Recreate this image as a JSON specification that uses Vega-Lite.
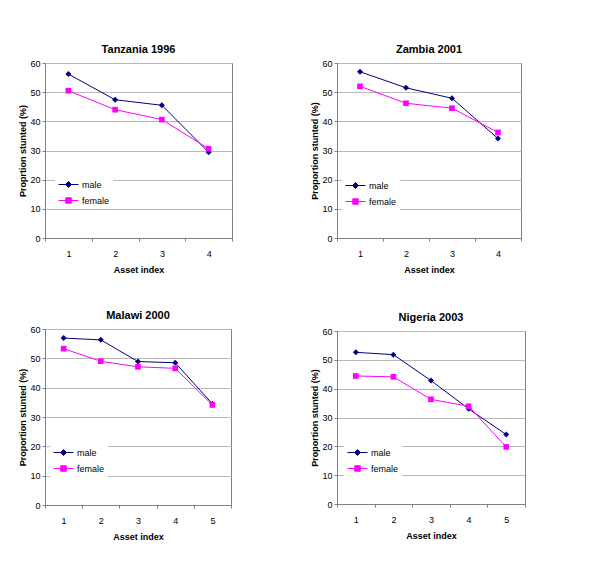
{
  "$schema": "https://vega.github.io/schema/vega-lite/v6.json",
  "padding": {"left": 18, "top": 43, "right": 5, "bottom": 5},
  "background": "white",
  "datasets": {
    "stunting": [
      {"country": "Tanzania", "asset": "1", "sex": "male", "value": 56.2},
      {"country": "Tanzania", "asset": "2", "sex": "male", "value": 47.4},
      {"country": "Tanzania", "asset": "3", "sex": "male", "value": 45.5},
      {"country": "Tanzania", "asset": "4", "sex": "male", "value": 29.4},
      {"country": "Tanzania", "asset": "1", "sex": "female", "value": 50.5},
      {"country": "Tanzania", "asset": "2", "sex": "female", "value": 44.0},
      {"country": "Tanzania", "asset": "3", "sex": "female", "value": 40.6},
      {"country": "Tanzania", "asset": "4", "sex": "female", "value": 30.6},
      {"country": "Zambia", "asset": "1", "sex": "male", "value": 57.0},
      {"country": "Zambia", "asset": "2", "sex": "male", "value": 51.5},
      {"country": "Zambia", "asset": "3", "sex": "male", "value": 47.9},
      {"country": "Zambia", "asset": "4", "sex": "male", "value": 34.1},
      {"country": "Zambia", "asset": "1", "sex": "female", "value": 52.0},
      {"country": "Zambia", "asset": "2", "sex": "female", "value": 46.2},
      {"country": "Zambia", "asset": "3", "sex": "female", "value": 44.5},
      {"country": "Zambia", "asset": "4", "sex": "female", "value": 36.2},
      {"country": "Malawi", "asset": "1", "sex": "male", "value": 56.9},
      {"country": "Malawi", "asset": "2", "sex": "male", "value": 56.3},
      {"country": "Malawi", "asset": "3", "sex": "male", "value": 48.9},
      {"country": "Malawi", "asset": "4", "sex": "male", "value": 48.5},
      {"country": "Malawi", "asset": "5", "sex": "male", "value": 34.5},
      {"country": "Malawi", "asset": "1", "sex": "female", "value": 53.3},
      {"country": "Malawi", "asset": "2", "sex": "female", "value": 49.0},
      {"country": "Malawi", "asset": "3", "sex": "female", "value": 47.1},
      {"country": "Malawi", "asset": "4", "sex": "female", "value": 46.6},
      {"country": "Malawi", "asset": "5", "sex": "female", "value": 34.1},
      {"country": "Nigeria", "asset": "1", "sex": "male", "value": 52.6},
      {"country": "Nigeria", "asset": "2", "sex": "male", "value": 51.8},
      {"country": "Nigeria", "asset": "3", "sex": "male", "value": 42.8},
      {"country": "Nigeria", "asset": "4", "sex": "male", "value": 33.0},
      {"country": "Nigeria", "asset": "5", "sex": "male", "value": 24.1},
      {"country": "Nigeria", "asset": "1", "sex": "female", "value": 44.4},
      {"country": "Nigeria", "asset": "2", "sex": "female", "value": 44.1},
      {"country": "Nigeria", "asset": "3", "sex": "female", "value": 36.3},
      {"country": "Nigeria", "asset": "4", "sex": "female", "value": 33.9},
      {"country": "Nigeria", "asset": "5", "sex": "female", "value": 19.8}
    ]
  },
  "data": {"name": "stunting"},
  "config": {
    "font": "Liberation Sans, Arial",
    "view": {"stroke": "#808080", "strokeWidth": 1},
    "title": {"fontSize": 11, "fontWeight": "bold", "color": "black", "offset": 4, "anchor": "middle"},
    "axis": {
      "labelFontSize": 9, "labelColor": "black", "titleFontSize": 9, "titleFontWeight": "bold", "titleColor": "black",
      "domainColor": "#808080", "tickColor": "#808080", "gridColor": "#b8b8b8", "tickSize": 3
    },
    "axisX": {"labelAngle": 0, "grid": false, "labelPadding": 8, "titlePadding": 7},
    "axisY": {"grid": true, "labelPadding": 2, "titlePadding": 2},
    "legend": {"labelFontSize": 9, "labelColor": "black", "fillColor": "white", "padding": 3, "rowPadding": 5, "labelOffset": 13, "title": null, "orient": "none", "symbolSize": 100, "symbolStrokeWidth": 1, "symbolOpacity": 1}
  },
  "resolve": {"scale": {"fill": "independent", "stroke": "independent", "shape": "independent", "x": "independent", "y": "independent"}, "legend": {"fill": "independent", "stroke": "independent", "shape": "independent"}},
  "spacing": 77,
  "hconcat": [
    {
      "resolve": {"scale": {"fill": "independent", "stroke": "independent", "shape": "independent", "x": "independent", "y": "independent"}, "legend": {"fill": "independent", "stroke": "independent", "shape": "independent"}},
      "spacing": 34,
      "vconcat": [
        {
          "width": 187, "height": 175,
          "title": "Tanzania 1996",
          "transform": [{"filter": "datum.country === 'Tanzania'"}],
          "encoding": {
            "x": {"field": "asset", "type": "ordinal", "title": "Asset index", "scale": {"type": "band", "paddingInner": 0, "paddingOuter": 0}, "axis": {"tickBand": "extent"}},
            "y": {"field": "value", "type": "quantitative", "title": "Proprtion stunted (%)", "scale": {"domain": [0, 60], "nice": false}, "axis": {"values": [0, 10, 20, 30, 40, 50, 60]}}
          },
          "layer": [
            {"transform": [{"filter": "datum.sex === 'male'"}], "mark": {"type": "line", "strokeWidth": 1, "color": "#000080"}},
            {"transform": [{"filter": "datum.sex === 'female'"}], "mark": {"type": "line", "strokeWidth": 1, "color": "#ff00ff"}},
            {"transform": [{"filter": "datum.sex === 'male'"}], "mark": {"type": "point", "shape": "diamond", "filled": true, "opacity": 1, "size": 36, "color": "#000080"}},
            {"transform": [{"filter": "datum.sex === 'female'"}], "mark": {"type": "point", "shape": "square", "filled": true, "opacity": 1, "size": 32, "color": "#ff00ff"}},
            {"transform": [{"filter": "datum.value < 0"}], "mark": {"type": "point", "filled": true},
             "encoding": {
               "shape": {"field": "sex", "type": "nominal", "scale": {"domain": ["male", "female"], "range": ["M-1,0H3M1,-0.6L1.6,0L1,0.6L0.4,0Z", "M-1,0H3M0.45,-0.55H1.55V0.55H0.45Z"]}, "legend": {"legendX": 10, "legendY": 113}},
               "fill": {"field": "sex", "type": "nominal", "scale": {"domain": ["male", "female"], "range": ["#000080", "#ff00ff"]}, "legend": {"legendX": 10, "legendY": 113}},
               "stroke": {"field": "sex", "type": "nominal", "scale": {"domain": ["male", "female"], "range": ["#000080", "#ff00ff"]}, "legend": {"legendX": 10, "legendY": 113}}
             }}
          ]
        },
        {
          "width": 186, "height": 176,
          "title": "Malawi 2000",
          "transform": [{"filter": "datum.country === 'Malawi'"}],
          "encoding": {
            "x": {"field": "asset", "type": "ordinal", "title": "Asset index", "scale": {"type": "band", "paddingInner": 0, "paddingOuter": 0}, "axis": {"tickBand": "extent"}},
            "y": {"field": "value", "type": "quantitative", "title": "Proportion stunted (%)", "scale": {"domain": [0, 60], "nice": false}, "axis": {"values": [0, 10, 20, 30, 40, 50, 60]}}
          },
          "layer": [
            {"transform": [{"filter": "datum.sex === 'male'"}], "mark": {"type": "line", "strokeWidth": 1, "color": "#000080"}},
            {"transform": [{"filter": "datum.sex === 'female'"}], "mark": {"type": "line", "strokeWidth": 1, "color": "#ff00ff"}},
            {"transform": [{"filter": "datum.sex === 'male'"}], "mark": {"type": "point", "shape": "diamond", "filled": true, "opacity": 1, "size": 36, "color": "#000080"}},
            {"transform": [{"filter": "datum.sex === 'female'"}], "mark": {"type": "point", "shape": "square", "filled": true, "opacity": 1, "size": 32, "color": "#ff00ff"}},
            {"transform": [{"filter": "datum.value < 0"}], "mark": {"type": "point", "filled": true},
             "encoding": {
               "shape": {"field": "sex", "type": "nominal", "scale": {"domain": ["male", "female"], "range": ["M-1,0H3M1,-0.6L1.6,0L1,0.6L0.4,0Z", "M-1,0H3M0.45,-0.55H1.55V0.55H0.45Z"]}, "legend": {"legendX": 5, "legendY": 115}},
               "fill": {"field": "sex", "type": "nominal", "scale": {"domain": ["male", "female"], "range": ["#000080", "#ff00ff"]}, "legend": {"legendX": 5, "legendY": 115}},
               "stroke": {"field": "sex", "type": "nominal", "scale": {"domain": ["male", "female"], "range": ["#000080", "#ff00ff"]}, "legend": {"legendX": 5, "legendY": 115}}
             }}
          ]
        }
      ]
    },
    {
      "resolve": {"scale": {"fill": "independent", "stroke": "independent", "shape": "independent", "x": "independent", "y": "independent"}, "legend": {"fill": "independent", "stroke": "independent", "shape": "independent"}},
      "spacing": 36,
      "vconcat": [
        {
          "width": 184, "height": 175,
          "title": "Zambia 2001",
          "transform": [{"filter": "datum.country === 'Zambia'"}],
          "encoding": {
            "x": {"field": "asset", "type": "ordinal", "title": "Asset index", "scale": {"type": "band", "paddingInner": 0, "paddingOuter": 0}, "axis": {"tickBand": "extent"}},
            "y": {"field": "value", "type": "quantitative", "title": "Proportion stunted (%)", "scale": {"domain": [0, 60], "nice": false}, "axis": {"values": [0, 10, 20, 30, 40, 50, 60]}}
          },
          "layer": [
            {"transform": [{"filter": "datum.sex === 'male'"}], "mark": {"type": "line", "strokeWidth": 1, "color": "#000080"}},
            {"transform": [{"filter": "datum.sex === 'female'"}], "mark": {"type": "line", "strokeWidth": 1, "color": "#ff00ff"}},
            {"transform": [{"filter": "datum.sex === 'male'"}], "mark": {"type": "point", "shape": "diamond", "filled": true, "opacity": 1, "size": 36, "color": "#000080"}},
            {"transform": [{"filter": "datum.sex === 'female'"}], "mark": {"type": "point", "shape": "square", "filled": true, "opacity": 1, "size": 32, "color": "#ff00ff"}},
            {"transform": [{"filter": "datum.value < 0"}], "mark": {"type": "point", "filled": true},
             "encoding": {
               "shape": {"field": "sex", "type": "nominal", "scale": {"domain": ["male", "female"], "range": ["M-1,0H3M1,-0.6L1.6,0L1,0.6L0.4,0Z", "M-1,0H3M0.45,-0.55H1.55V0.55H0.45Z"]}, "legend": {"legendX": 5, "legendY": 114}},
               "fill": {"field": "sex", "type": "nominal", "scale": {"domain": ["male", "female"], "range": ["#000080", "#ff00ff"]}, "legend": {"legendX": 5, "legendY": 114}},
               "stroke": {"field": "sex", "type": "nominal", "scale": {"domain": ["male", "female"], "range": ["#000080", "#ff00ff"]}, "legend": {"legendX": 5, "legendY": 114}}
             }}
          ]
        },
        {
          "width": 188, "height": 173,
          "title": "Nigeria 2003",
          "transform": [{"filter": "datum.country === 'Nigeria'"}],
          "encoding": {
            "x": {"field": "asset", "type": "ordinal", "title": "Asset index", "scale": {"type": "band", "paddingInner": 0, "paddingOuter": 0}, "axis": {"tickBand": "extent"}},
            "y": {"field": "value", "type": "quantitative", "title": "Proportion stunted (%)", "scale": {"domain": [0, 60], "nice": false}, "axis": {"values": [0, 10, 20, 30, 40, 50, 60]}}
          },
          "layer": [
            {"transform": [{"filter": "datum.sex === 'male'"}], "mark": {"type": "line", "strokeWidth": 1, "color": "#000080"}},
            {"transform": [{"filter": "datum.sex === 'female'"}], "mark": {"type": "line", "strokeWidth": 1, "color": "#ff00ff"}},
            {"transform": [{"filter": "datum.sex === 'male'"}], "mark": {"type": "point", "shape": "diamond", "filled": true, "opacity": 1, "size": 36, "color": "#000080"}},
            {"transform": [{"filter": "datum.sex === 'female'"}], "mark": {"type": "point", "shape": "square", "filled": true, "opacity": 1, "size": 32, "color": "#ff00ff"}},
            {"transform": [{"filter": "datum.value < 0"}], "mark": {"type": "point", "filled": true},
             "encoding": {
               "shape": {"field": "sex", "type": "nominal", "scale": {"domain": ["male", "female"], "range": ["M-1,0H3M1,-0.6L1.6,0L1,0.6L0.4,0Z", "M-1,0H3M0.45,-0.55H1.55V0.55H0.45Z"]}, "legend": {"legendX": 7, "legendY": 113}},
               "fill": {"field": "sex", "type": "nominal", "scale": {"domain": ["male", "female"], "range": ["#000080", "#ff00ff"]}, "legend": {"legendX": 7, "legendY": 113}},
               "stroke": {"field": "sex", "type": "nominal", "scale": {"domain": ["male", "female"], "range": ["#000080", "#ff00ff"]}, "legend": {"legendX": 7, "legendY": 113}}
             }}
          ]
        }
      ]
    }
  ]
}
